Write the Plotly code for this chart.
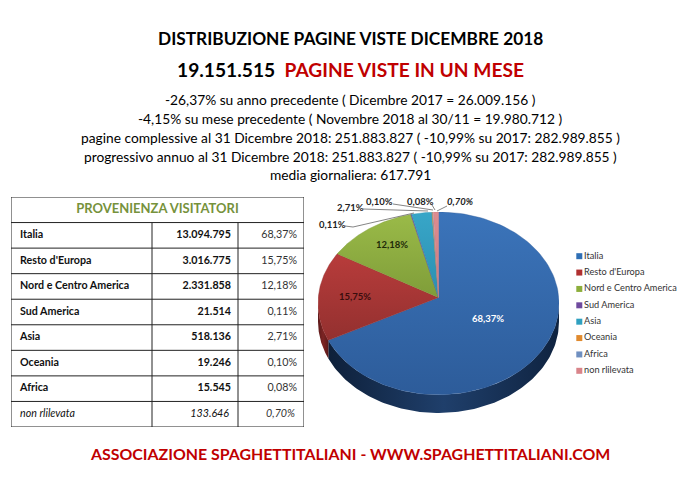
import math
import plotly.graph_objects as go

# ---------- data ----------
regions = ["Italia", "Resto d'Europa", "Nord e Centro America", "Sud America", "Asia", "Oceania", "Africa", "non rlilevata"]
visits = ["13.094.795", "3.016.775", "2.331.858", "21.514", "518.136", "19.246", "15.545", "133.646"]
shares = [68.37, 15.75, 12.18, 0.11, 2.71, 0.10, 0.08, 0.70]
share_labels = ["68,37%", "15,75%", "12,18%", "0,11%", "2,71%", "0,10%", "0,08%", "0,70%"]
title_lines = ["-26,37% su anno precedente ( Dicembre 2017 = 26.009.156 )",
               "-4,15% su mese precedente ( Novembre 2018 al 30/11 = 19.980.712 )",
               "pagine complessive al 31 Dicembre 2018: 251.883.827 ( -10,99% su 2017: 282.989.855 )",
               "progressivo annuo al 31 Dicembre 2018: 251.883.827 ( -10,99% su 2017: 282.989.855 )",
               "media giornaliera: 617.791"]

# ---------- style ----------
W, H = 700, 494
FONT = "Lato"
top_colors = [("#3b74ba", "#2d5c9a"), ("#b83c3b", "#93302f"), ("#9aba48", "#7f9d39"), ("#6f4a9e", "#6f4a9e"),
              ("#38a6c8", "#2b8fb0"), ("#e08a2e", "#e08a2e"), ("#7090c4", "#7090c4"), ("#dc8c90", "#cf7a7e")]
legend_colors = ["#2f6fb5", "#b03030", "#8cae3b", "#6f4a9e", "#2fa0c0", "#e08a2e", "#6f8fc0", "#d9848a"]
DEPTH = 0.2
APEX_Y = 0.065

def px(x): return x / W
def py(y): return 1 - y / H

fig = go.Figure()

# ---------- pie, drawn as an ellipse from the shares ----------
total = sum(shares)
cum = 0.0
bounds = []
for s in shares:
    bounds.append((cum / total * 2 * math.pi, (cum + s) / total * 2 * math.pi))
    cum += s

def arc(a0, a1, dy=0.0, n=120):
    pts = [a0 + (a1 - a0) * i / n for i in range(n + 1)]
    return [math.sin(a) for a in pts], [math.cos(a) + dy for a in pts]

# side wall: only the front half of the rim (pi/2 .. 3pi/2)
wall_colors = [["#0e203a", "#1f3f6b", "#0f2340"], ["#5c1a1a", "#7c2423", "#5c1a1a"]]
for (a0, a1), cols in zip(bounds[:2], wall_colors):
    s = max(a0, math.pi / 2)
    e = min(a1, 3 * math.pi / 2)
    if e <= s:
        continue
    xt, yt = arc(s, e)
    xb, yb = arc(s, e, -DEPTH)
    fig.add_trace(go.Scatter(
        x=xt + xb[::-1] + xt[:1], y=yt + yb[::-1] + yt[:1], mode="lines", fill="toself",
        line=dict(width=0), fillgradient=dict(type="horizontal", colorscale=[[0, cols[0]], [0.5, cols[1]], [1, cols[2]]]),
        showlegend=False, hoverinfo="skip"))

for (a0, a1), name, cols in zip(bounds, regions, top_colors):
    xs, ys = arc(a0, a1)
    fig.add_trace(go.Scatter(
        x=[0] + xs + [0], y=[APEX_Y] + ys + [APEX_Y], mode="lines", fill="toself", name=name,
        line=dict(width=0.4, color=cols[1]),
        fillgradient=dict(type="vertical", colorscale=[[0, cols[1]], [1, cols[0]]]),
        showlegend=False))

# ---------- legend (square swatches and names) ----------
fig.add_trace(go.Scatter(
    x=[0.03] * len(regions), y=list(range(len(regions))), text=regions, mode="markers+text",
    textposition="middle right", textfont=dict(family=FONT, size=9.2, color="#333333"),
    marker=dict(symbol="square", size=6, color=legend_colors), xaxis="x2", yaxis="y2",
    showlegend=False, cliponaxis=False, hoverinfo="skip"))

# ---------- table: rows are 0..n-1 on y3, the title row is -1, x3 runs in table pixels ----------
T_X = [11, 152, 238, 304]
n = len(regions)
rows = list(range(n))

def style(vals, bold=False):
    return ["<i>%s</i>" % v if i == len(vals) - 1 else ("<b>%s</b>" % v if bold else v) for i, v in enumerate(vals)]

def table_text(xs, vals, pos, size=10.7, color="#111111"):
    fig.add_trace(go.Scatter(x=xs, y=rows[:len(vals)], text=vals, mode="text", textposition=pos,
                             textfont=dict(family=FONT, size=size, color=color), xaxis="x3", yaxis="y3",
                             showlegend=False, cliponaxis=False, hoverinfo="skip"))

table_text([20] * n, style(regions, True), "middle right")
table_text([231] * (n - 1) + [229], style(visits, True), "middle left")
table_text([297] * (n - 1) + [295], style(share_labels), "middle left", color="#333333")
fig.add_trace(go.Scatter(x=[157.5], y=[-1], text=["<b>PROVENIENZA VISITATORI</b>"], mode="text",
                         textposition="middle center", textfont=dict(family=FONT, size=13, color="#76923c"),
                         xaxis="x3", yaxis="y3", showlegend=False, cliponaxis=False, hoverinfo="skip"))

shapes = []
GRID = dict(color="#222222", width=1)
for r in range(-1, n + 1):
    shapes.append(dict(type="line", xref="x3", yref="y3", x0=T_X[0], x1=T_X[-1], y0=r - 0.5, y1=r - 0.5, line=GRID))
for i, x in enumerate(T_X):
    y0 = -1.5 if i in (0, len(T_X) - 1) else -0.5
    shapes.append(dict(type="line", xref="x3", yref="y3", x0=x, x1=x, y0=y0, y1=n - 0.5, line=GRID))

# ---------- texts ----------
ann = []
def text(x, y, s, size, color="#000000"):
    ann.append(dict(x=px(x), y=py(y), xref="paper", yref="paper", text=s, showarrow=False,
                    xanchor="center", yanchor="middle", font=dict(family=FONT, size=size, color=color)))

text(350, 38.5, "<b>DISTRIBUZIONE PAGINE VISTE DICEMBRE 2018</b>", 17.3)
text(350, 69, "<b>19.151.515  <span style='color:#c00000'>PAGINE VISTE IN UN MESE</span></b>", 19.2)
for y, line in zip([99, 118, 137, 156, 174], title_lines):
    text(350, y, line, 13.75)
text(350, 453.5, "<b>ASSOCIAZIONE SPAGHETTITALIANI - WWW.SPAGHETTITALIANI.COM</b>", 15.9, color="#c00000")

# data labels
label_pos = [(488, 318), (355, 296), (392, 244), (332, 224), (350, 207), (379, 201), (420, 201), (460, 201)]
label_col = ["#ffffff", "#3a0d0d", "#1e2a08", "#222222", "#222222", "#222222", "#222222", "#222222"]
for i, (lab, (x, y), c) in enumerate(zip(share_labels, label_pos, label_col)):
    s = "<b>%s</b>" % lab
    if i == 7:
        s = "<b><i>%s</i></b>" % lab
    text(x, y, s, 9.5, color=c)

# leader lines
leaders = [[(345, 226), (353, 227), (414, 213)], [(363, 209), (428, 211)], [(393, 204), (433, 210)],
           [(432, 205), (435, 210)], [(447, 206), (437, 211)]]
for pts in leaders:
    for (x0, y0), (x1, y1) in zip(pts, pts[1:]):
        shapes.append(dict(type="line", xref="paper", yref="paper", x0=px(x0), y0=py(y0), x1=px(x1), y1=py(y1),
                           line=dict(color="#666666", width=0.8)))

hidden = dict(visible=False, fixedrange=True)
fig.update_layout(
    width=W, height=H, autosize=False, margin=dict(l=0, r=0, t=0, b=0), paper_bgcolor="white", plot_bgcolor="white",
    showlegend=False, annotations=ann, shapes=shapes,
    xaxis=dict(domain=[px(318), px(559)], range=[-1, 1], **hidden),
    yaxis=dict(domain=[py(413), py(212)], range=[-1 - DEPTH, 1], **hidden),
    xaxis2=dict(domain=[px(576), px(686)], range=[0, 1], anchor="y2", **hidden),
    yaxis2=dict(domain=[py(379), py(248)], range=[7.5, -0.5], anchor="x2", **hidden),
    xaxis3=dict(domain=[px(T_X[0]), px(T_X[-1])], range=[T_X[0], T_X[-1]], anchor="y3", **hidden),
    yaxis3=dict(domain=[py(427), py(197)], range=[n - 0.5, -1.5], anchor="x3", **hidden),
)
fig.write_html("out.html", config=dict(displayModeBar=False),
               post_script="document.body.style.margin='0';")
